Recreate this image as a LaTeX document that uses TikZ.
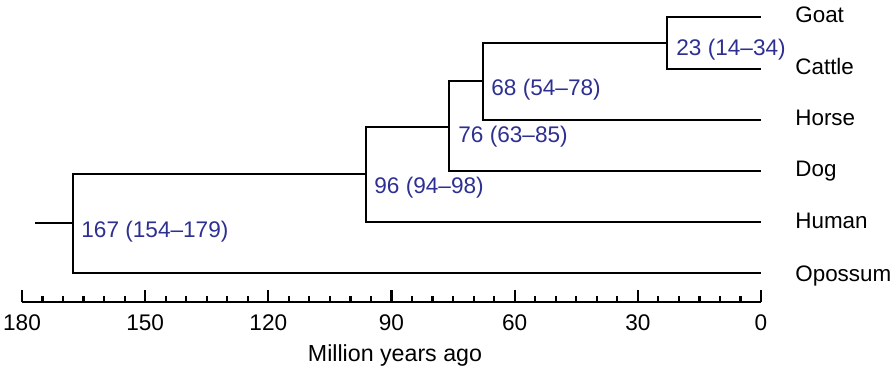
\documentclass[tikz,border=0pt]{standalone}
\usepackage{fontspec}
\setmainfont{Liberation Sans}
\definecolor{agecol}{RGB}{45,48,145}
\tikzset{
  branch/.style={draw, line width=1.1pt},
  taxon/.style={anchor=base west, inner sep=0pt, font=\fontsize{11.2}{13}\selectfont},
  age/.style={anchor=west, inner sep=0pt, text=agecol, font=\fontsize{11.3}{13}\selectfont},
}
\begin{document}
\begin{tikzpicture}[x=0.5pt,y=-0.5pt]
\useasboundingbox (0,0) rectangle (896,373);

% tips
\coordinate (goat) at (761,17);
\coordinate (cattle) at (761,69);
\coordinate (horse) at (761,120);
\coordinate (dog) at (761,171);
\coordinate (human) at (761,222);
\coordinate (opossum) at (761,273);

% splits
\coordinate (n23) at (667,43);
\coordinate (n68) at (483,81);
\coordinate (n76) at (449,127);
\coordinate (n96) at (366,174);
\coordinate (n167) at (73,223);
\coordinate (root) at (35,223);

\node[taxon] (tgoat) at (795,23) {Goat};
\node[taxon] (tcattle) at (795,75) {Cattle};
\node[taxon] (thorse) at (795,126) {Horse};
\node[taxon] (tdog) at (795,177) {Dog};
\node[taxon] (thuman) at (795,229) {Human};
\node[taxon] (topossum) at (795,282) {Opossum};

\path[branch] (root) -- (n167);
\path[branch] (n167) |- (n96);
\path[branch] (n167) |- (opossum);
\path[branch] (n96) |- (n76);
\path[branch] (n96) |- (human);
\path[branch] (n76) |- (n68);
\path[branch] (n76) |- (dog);
\path[branch] (n68) |- (n23);
\path[branch] (n68) |- (horse);
\path[branch] (n23) |- (goat);
\path[branch] (n23) |- (cattle);

\node[age] (a23) at (676,50) {23 (14–34)};
\node[age] (a68) at (491,90) {68 (54–78)};
\node[age] (a76) at (458,137) {76 (63–85)};
\node[age] (a96) at (374,188) {96 (94–98)};
\node[age] (a167) at (81,232) {167 (154–179)};

% time axis
\coordinate (t180) at (22,302);
\coordinate (t0) at (761,302);
\path[branch] (t180) -- (t0);
\foreach \t in {0,5,...,180} {
  \pgfmathsetmacro\xx{761-\t*4.1056}
  \path[branch] (\xx,302) -- (\xx,296);
}
\foreach \t in {0,30,...,180} {
  \pgfmathsetmacro\xx{761-\t*4.1056}
  \path[branch] (\xx,302) -- (\xx,290);
  \node[font=\fontsize{11.3}{13}\selectfont, inner sep=0pt] at (\xx,323) {\t};
}
\node[font=\fontsize{11.6}{13}\selectfont, inner sep=0pt] (xlab) at (395,356) {Million years ago};
\end{tikzpicture}
\end{document}
